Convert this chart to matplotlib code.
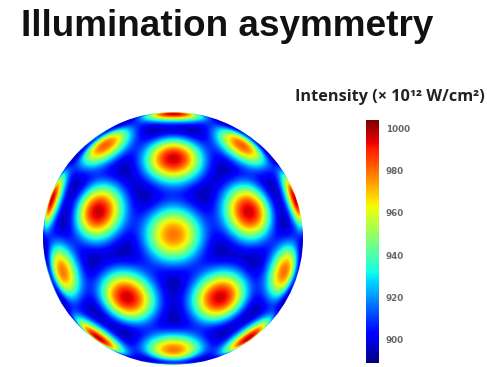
import numpy as np
import matplotlib
matplotlib.use("Agg")
import matplotlib.pyplot as plt
from matplotlib.patches import Ellipse

# colour scale of the intensity map (x 10^12 W/cm^2)
cbar_ticks = [900, 920, 940, 960, 980, 1000]
cbar_min = 889
cbar_max = 1004

# background level between the beam spots
base_intensity = 880
# peak intensity of the spots: 12 at icosahedron vertices, 20 at dodecahedron vertices
icosa_peaks = [979, 982, 982, 979, 979, 980, 980, 980, 980, 980, 980, 980]
dodeca_peaks = [996, 997, 996, 996, 996,
                997, 997, 997, 997, 997,
                996, 996, 996, 996, 996,
                996, 996, 996, 996, 996]
spot_width_deg = 13.6
spot_shape = 2.2


def sph(theta, phi):
    t, p = np.radians(theta), np.radians(phi)
    return np.array([np.sin(t) * np.cos(p), np.sin(t) * np.sin(p), np.cos(t)])


# spot directions, view axis along an icosahedron vertex
icosa_dirs = [sph(0, 0)]
icosa_dirs += [sph(63.435, 54 + 72 * k) for k in range(5)]
icosa_dirs += [sph(116.565, 90 + 72 * k) for k in range(5)]
icosa_dirs += [sph(180, 0)]
dodeca_dirs = [sph(37.377, 90 + 72 * k) for k in range(5)]
dodeca_dirs += [sph(79.188, 90 + 72 * k) for k in range(5)]
dodeca_dirs += [sph(100.812, 54 + 72 * k) for k in range(5)]
dodeca_dirs += [sph(142.623, 54 + 72 * k) for k in range(5)]

dirs = np.array(icosa_dirs + dodeca_dirs)
peaks = np.array(icosa_peaks + dodeca_peaks)

# small tilt of the sphere towards the bottom
tilt = np.radians(-1.8)
rot = np.array([[1, 0, 0],
                [0, np.cos(tilt), -np.sin(tilt)],
                [0, np.sin(tilt), np.cos(tilt)]])
dirs = dirs @ rot.T

n = 500
xs = np.linspace(-1, 1, n)
X, Y = np.meshgrid(xs, xs)
R2 = X ** 2 + Y ** 2
Z = np.sqrt(np.clip(1 - R2, 0, None))
P = np.stack([X, Y, Z], axis=-1)

field = np.full(X.shape, float(base_intensity))
for d, pk in zip(dirs, peaks):
    ang = np.degrees(np.arccos(np.clip(P @ d, -1, 1)))
    field += (pk - base_intensity) * np.exp(-(ang / spot_width_deg) ** spot_shape)
field[R2 > 1.02] = np.nan

W, H = 487, 367
fig = plt.figure(figsize=(W / 100, H / 100), dpi=100)
fig.patch.set_facecolor("white")

ax = fig.add_axes([43 / W, (H - 365) / H, 260 / W, 253 / H])
im = ax.imshow(field, cmap="jet", vmin=cbar_min, vmax=cbar_max,
               extent=[-1, 1, -1, 1], origin="lower", aspect="auto",
               interpolation="bilinear")
clip = Ellipse((0, 0), 2, 2, transform=ax.transData)
im.set_clip_path(clip)
ax.set_xlim(-1, 1)
ax.set_ylim(-1, 1)
ax.axis("off")

cax = fig.add_axes([366 / W, (H - 363) / H, 13 / W, 243 / H])
cb = fig.colorbar(im, cax=cax, ticks=cbar_ticks)
cb.outline.set_visible(False)
cax.tick_params(length=0, pad=5, labelsize=6.3, labelcolor="#666666")
for t in cax.get_yticklabels():
    t.set_fontweight("bold")

fig.text(21 / W, 1 - 27 / H, "Illumination asymmetry", fontsize=26.6,
         fontweight="bold", family="Liberation Sans", va="center", ha="left",
         color="#111111")
fig.text(485 / W, 1 - 97 / H, "Intensity (× 10¹² W/cm²)", fontsize=11.7,
         fontweight="bold", family="Open Sans", va="center", ha="right",
         color="#222222")

fig.savefig("out.png", dpi=100)
